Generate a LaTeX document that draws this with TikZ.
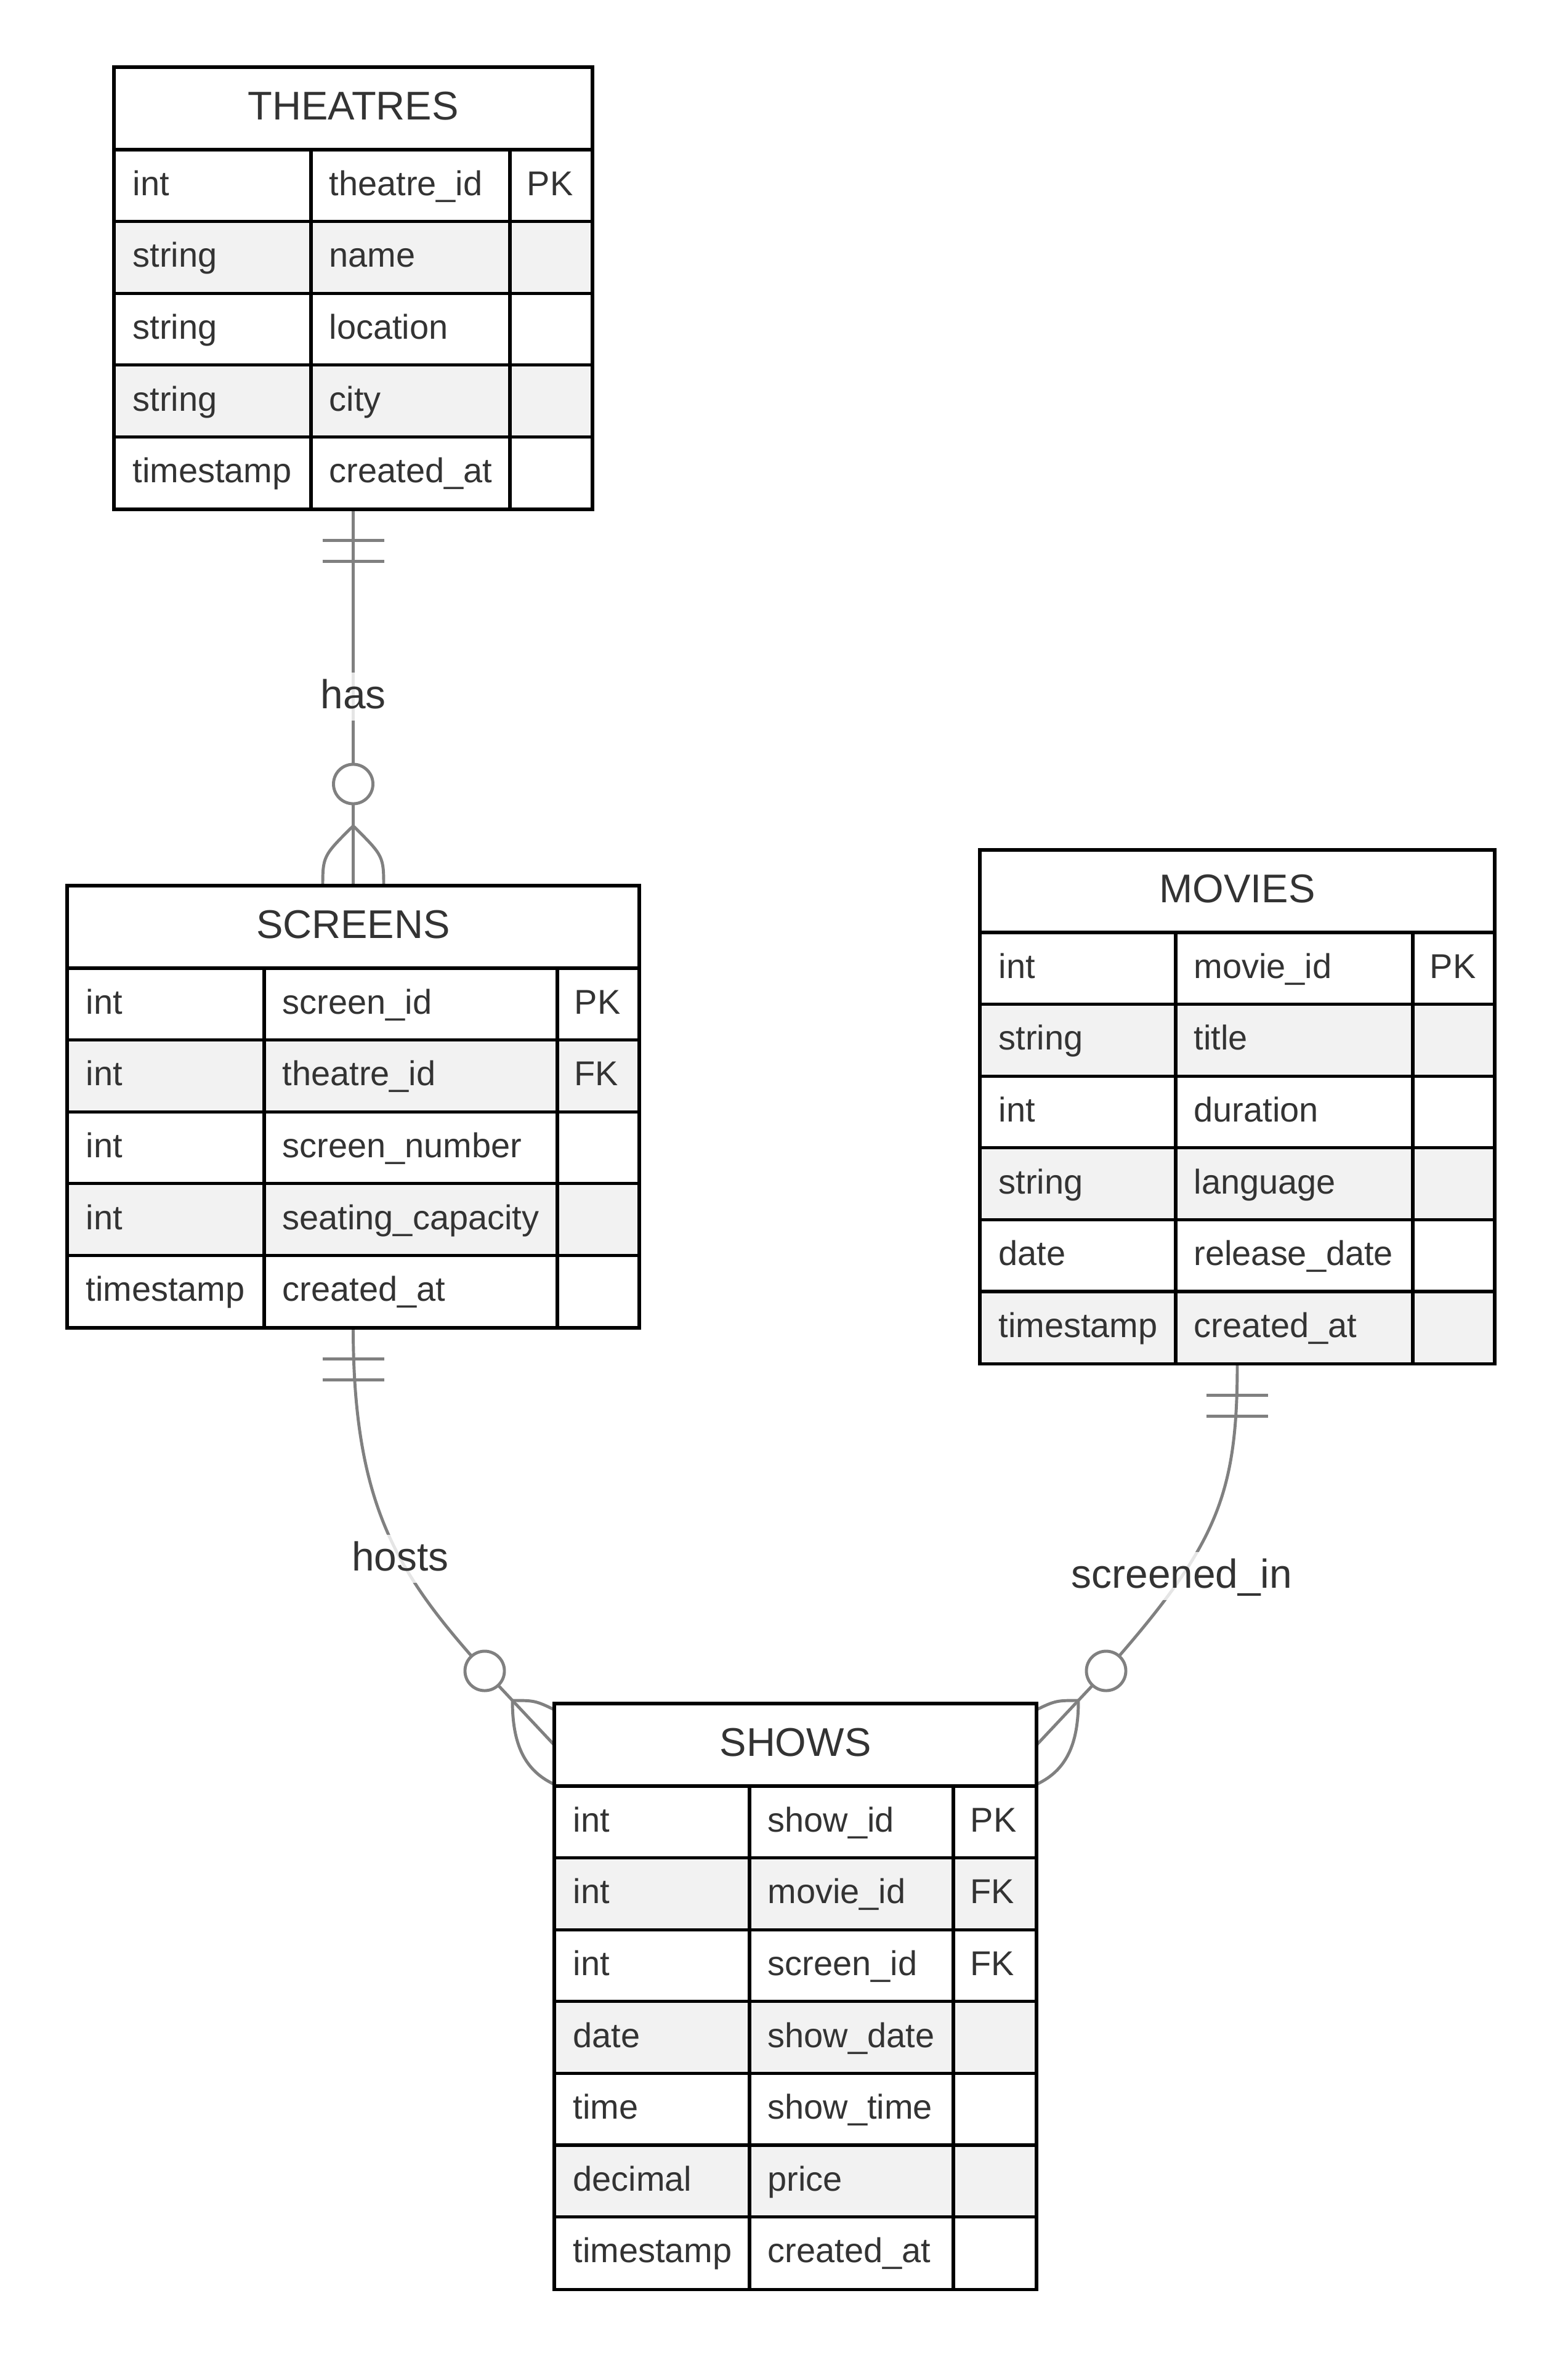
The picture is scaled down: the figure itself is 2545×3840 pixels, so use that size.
\documentclass[tikz,border=0pt]{standalone}
\usepackage{fontspec}
\setmainfont{Liberation Sans}
\usepackage{tikz}
\pgfdeclarelayer{bg}
\pgfsetlayers{bg,main}
\definecolor{ink}{HTML}{333333}
\definecolor{rowgray}{HTML}{F2F2F2}
\definecolor{linkgray}{HTML}{808080}

\begin{document}
\begin{tikzpicture}[
    x=0.01cm,y=-0.01cm,
    entity/.style={rectangle, fill=white, inner sep=0pt},
    line/.style={line width=1.5pt, black},
    head/.style={anchor=base, text=ink, inner sep=0pt, font=\fontsize{18.5}{21}\selectfont},
    cell/.style={anchor=base west, text=ink, inner sep=0pt, font=\fontsize{15.9}{19}\selectfont},
    link/.style={line width=1.4pt, linkgray},
    ring/.style={circle, draw=linkgray, line width=1.4pt, fill=white, minimum size=0.64cm, inner sep=0pt},
    lbl/.style={anchor=base, text=ink, fill=white, fill opacity=0.8, text opacity=1,
      text height=0.58cm, text depth=0.2cm, inner xsep=0.04cm, inner ysep=0pt,
      font=\fontsize{18.7}{21}\selectfont}
    ]
    \useasboundingbox (0,0) rectangle (2545,3840);
    \begin{pgfonlayer}{bg}
      \fill[white] (0,0) rectangle (2545,3840);
    \end{pgfonlayer}

    % THEATRES
    \node[entity, minimum width=7.75cm, minimum height=7.16cm] (theatres) at (573.5,468) {};
    \fill[rowgray] (186,359.6) rectangle (961,476.2);
    \fill[rowgray] (186,592.8) rectangle (961,709.4);
    \draw[line] (186,243) -- (961,243) (186,359.6) -- (961,359.6) (186,476.2) -- (961,476.2)
      (186,592.8) -- (961,592.8) (186,709.4) -- (961,709.4) (505,243) -- (505,826) (828,243) -- (828,826);
    \draw[line] (theatres.north west) rectangle (theatres.south east);
    \node[head] (thhead) at (573.5,194.5) {THEATRES};
    \node[cell] (tht1) at (215,317.3) {int};
    \node[cell] (thn1) at (534,317.3) {theatre\_id};
    \node[cell] (thk1) at (855,317.3) {PK};
    \node[cell] (tht2) at (215,433.9) {string};
    \node[cell] (thn2) at (534,433.9) {name};
    \node[cell] (tht3) at (215,550.5) {string};
    \node[cell] (thn3) at (534,550.5) {location};
    \node[cell] (tht4) at (215,667.1) {string};
    \node[cell] (thn4) at (534,667.1) {city};
    \node[cell] (tht5) at (215,783.7) {timestamp};
    \node[cell] (thn5) at (534,783.7) {created\_at};

    % SCREENS
    \node[entity, minimum width=9.27cm, minimum height=7.16cm] (screens) at (573.5,1797) {};
    \fill[rowgray] (110,1688.6) rectangle (1037,1805.2);
    \fill[rowgray] (110,1921.8) rectangle (1037,2038.4);
    \draw[line] (110,1572) -- (1037,1572) (110,1688.6) -- (1037,1688.6) (110,1805.2) -- (1037,1805.2)
      (110,1921.8) -- (1037,1921.8) (110,2038.4) -- (1037,2038.4) (429,1572) -- (429,2155) (905,1572) -- (905,2155);
    \draw[line] (screens.north west) rectangle (screens.south east);
    \node[head] (schead) at (573.5,1523.5) {SCREENS};
    \node[cell] (sct1) at (139,1646.3) {int};
    \node[cell] (scn1) at (458,1646.3) {screen\_id};
    \node[cell] (sck1) at (932,1646.3) {PK};
    \node[cell] (sct2) at (139,1762.9) {int};
    \node[cell] (scn2) at (458,1762.9) {theatre\_id};
    \node[cell] (sck2) at (932,1762.9) {FK};
    \node[cell] (sct3) at (139,1879.5) {int};
    \node[cell] (scn3) at (458,1879.5) {screen\_number};
    \node[cell] (sct4) at (139,1996.1) {int};
    \node[cell] (scn4) at (458,1996.1) {seating\_capacity};
    \node[cell] (sct5) at (139,2112.7) {timestamp};
    \node[cell] (scn5) at (458,2112.7) {created\_at};

    % MOVIES
    \node[entity, minimum width=8.34cm, minimum height=8.326cm] (movies) at (2009,1797.3) {};
    \fill[rowgray] (1592,1630.6) rectangle (2426,1747.2);
    \fill[rowgray] (1592,1863.8) rectangle (2426,1980.4);
    \fill[rowgray] (1592,2097) rectangle (2426,2213.6);
    \draw[line] (1592,1514) -- (2426,1514) (1592,1630.6) -- (2426,1630.6) (1592,1747.2) -- (2426,1747.2)
      (1592,1863.8) -- (2426,1863.8) (1592,1980.4) -- (2426,1980.4) (1592,2097) -- (2426,2097)
      (1909,1514) -- (1909,2213.6) (2294,1514) -- (2294,2213.6);
    \draw[line] (movies.north west) rectangle (movies.south east);
    \node[head] (mvhead) at (2009,1465.5) {MOVIES};
    \node[cell] (mvt1) at (1621,1588.3) {int};
    \node[cell] (mvn1) at (1938,1588.3) {movie\_id};
    \node[cell] (mvk1) at (2321,1588.3) {PK};
    \node[cell] (mvt2) at (1621,1704.9) {string};
    \node[cell] (mvn2) at (1938,1704.9) {title};
    \node[cell] (mvt3) at (1621,1821.5) {int};
    \node[cell] (mvn3) at (1938,1821.5) {duration};
    \node[cell] (mvt4) at (1621,1938.1) {string};
    \node[cell] (mvn4) at (1938,1938.1) {language};
    \node[cell] (mvt5) at (1621,2054.7) {date};
    \node[cell] (mvn5) at (1938,2054.7) {release\_date};
    \node[cell] (mvt6) at (1621,2171.3) {timestamp};
    \node[cell] (mvn6) at (1938,2171.3) {created\_at};

    % SHOWS
    \node[entity, minimum width=7.81cm, minimum height=9.492cm] (shows) at (1291.5,3241.6) {};
    \fill[rowgray] (901,3016.6) rectangle (1682,3133.2);
    \fill[rowgray] (901,3249.8) rectangle (1682,3366.4);
    \fill[rowgray] (901,3483) rectangle (1682,3599.6);
    \draw[line] (901,2900) -- (1682,2900) (901,3016.6) -- (1682,3016.6) (901,3133.2) -- (1682,3133.2)
      (901,3249.8) -- (1682,3249.8) (901,3366.4) -- (1682,3366.4) (901,3483) -- (1682,3483)
      (901,3599.6) -- (1682,3599.6) (1217,2900) -- (1217,3716.2) (1548,2900) -- (1548,3716.2);
    \draw[line] (shows.north west) rectangle (shows.south east);
    \node[head] (shhead) at (1291.5,2851.5) {SHOWS};
    \node[cell] (sht1) at (930,2974.3) {int};
    \node[cell] (shn1) at (1246,2974.3) {show\_id};
    \node[cell] (shk1) at (1575,2974.3) {PK};
    \node[cell] (sht2) at (930,3090.9) {int};
    \node[cell] (shn2) at (1246,3090.9) {movie\_id};
    \node[cell] (shk2) at (1575,3090.9) {FK};
    \node[cell] (sht3) at (930,3207.5) {int};
    \node[cell] (shn3) at (1246,3207.5) {screen\_id};
    \node[cell] (shk3) at (1575,3207.5) {FK};
    \node[cell] (sht4) at (930,3324.1) {date};
    \node[cell] (shn4) at (1246,3324.1) {show\_date};
    \node[cell] (sht5) at (930,3440.7) {time};
    \node[cell] (shn5) at (1246,3440.7) {show\_time};
    \node[cell] (sht6) at (930,3557.3) {decimal};
    \node[cell] (shn6) at (1246,3557.3) {price};
    \node[cell] (sht7) at (930,3673.9) {timestamp};
    \node[cell] (shn7) at (1246,3673.9) {created\_at};

    % rings, labels and foot points
    \node[ring] (hasring) at (573.5,1273) {};
    \node[ring] (hostsring) at (787,2713) {};
    \node[ring] (screenedring) at (1796,2713) {};
    \node[lbl] (haslbl) at (573.5,1150) {has};
    \node[lbl] (hostslbl) at (650,2550) {hosts};
    \node[lbl] (screenedlbl) at (1919,2578) {screened\_in};
    \coordinate (hasfoot) at (573.5,1341);
    \coordinate (hostsfoot) at (832,2761);
    \coordinate (hostsend) at (910,2844);
    \coordinate (screenedfoot) at (1751,2761);
    \coordinate (screenedend) at (1673,2844);

    \begin{pgfonlayer}{bg}
      % has
      \draw[link] (theatres.south) -- (screens.north);
      \draw[link] (theatres.south) ++(-50,51) -- ++(100,0);
      \draw[link] (theatres.south) ++(-50,85) -- ++(100,0);
      \draw[link] (hasfoot) .. controls (524,1390) .. (524,1442);
      \draw[link] (hasfoot) .. controls (623,1390) .. (623,1442);
      % hosts
      \draw[link] (screens.south) .. controls (573.5,2450) and (650,2560) .. (hostsring.center) -- (hostsend);
      \draw[link] (screens.south) ++(-50,51) -- ++(100,0);
      \draw[link] (screens.south) ++(-50,85) -- ++(100,0);
      \draw[link] (hostsfoot) .. controls (870,2761) .. (912,2782);
      \draw[link] (hostsfoot) .. controls (832,2830) and (850,2880) .. (912,2902);
      % screened_in
      \draw[link] (movies.south) .. controls (2009,2430) and (1975,2510) .. (screenedring.center) -- (screenedend);
      \draw[link] (movies.south) ++(-50,51) -- ++(100,0);
      \draw[link] (movies.south) ++(-50,85) -- ++(100,0);
      \draw[link] (screenedfoot) .. controls (1713,2761) .. (1671,2782);
      \draw[link] (screenedfoot) .. controls (1751,2830) and (1733,2880) .. (1671,2902);
    \end{pgfonlayer}
  \end{tikzpicture}
\end{document}
